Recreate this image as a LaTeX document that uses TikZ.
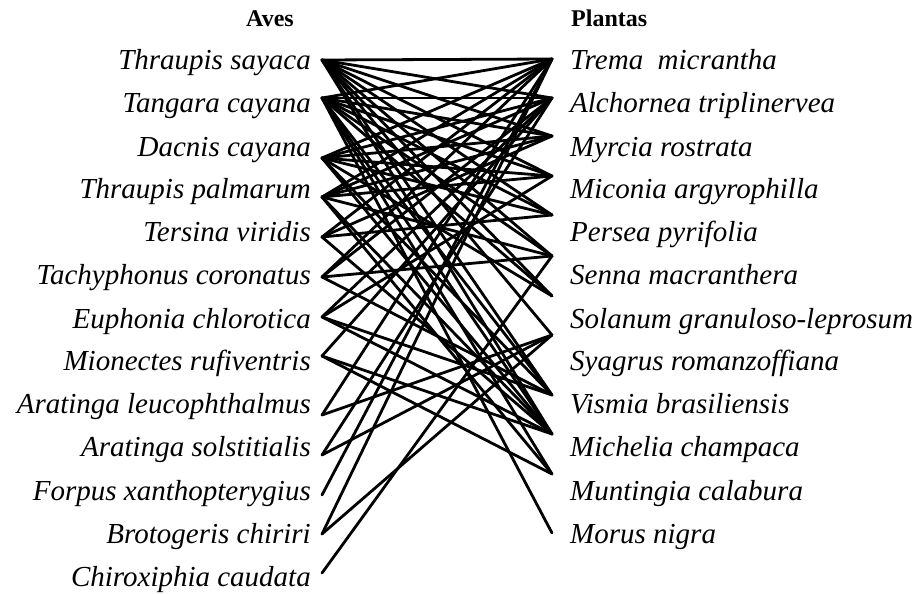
\documentclass[tikz,border=0pt]{standalone}
\usepackage{fontspec}
\setmainfont{Liberation Serif}
\begin{document}
\begin{tikzpicture}[x=1pt,y=-1pt,
  lbl/.style={font=\fontsize{29}{29}\selectfont\itshape, inner sep=0pt},
  hdr/.style={font=\fontsize{24}{24}\selectfont\bfseries, inner sep=0pt},
  link/.style={line width=2.8pt, line cap=round, line join=round}]
\useasboundingbox (0,0) rectangle (916,594);
% headers
\node[hdr, anchor=base] (aves) at (270,27) {Aves};
\node[hdr, anchor=base west] (plantas) at (571,27) {Plantas};
% bird labels
\foreach \i/\y/\t in {1/62/Thraupis sayaca, 2/104/Tangara cayana, 3/148/Dacnis cayana,
  4/190/Thraupis palmarum, 5/233/Tersina viridis, 6/276/Tachyphonus coronatus,
  7/320/Euphonia chlorotica, 8/362/Mionectes rufiventris, 9/405/Aratinga leucophthalmus,
  10/448/Aratinga solstitialis, 11/492/Forpus xanthopterygius, 12/535/Brotogeris chiriri,
  13/578/Chiroxiphia caudata}
  \node[lbl, anchor=base east] (b\i) at (311,\y+8) {\t};
% plant labels
\foreach \i/\y/\t in {1/62/Trema\ \ micrantha, 2/104/Alchornea triplinervea, 3/148/Myrcia rostrata,
  4/190/Miconia argyrophilla, 5/233/Persea pyrifolia, 6/276/Senna macranthera,
  7/320/Solanum granuloso-leprosum, 8/362/Syagrus romanzoffiana, 9/405/Vismia brasiliensis,
  10/448/Michelia champaca, 11/492/Muntingia calabura, 12/535/Morus nigra}
  \node[lbl, anchor=base west] (p\i) at (570,\y+8) {\t};
% endpoints
\foreach \i/\y in {1/60,2/98,3/158,4/197,5/237,6/277,7/317,8/356,9/415,10/455,11/495,12/534,13/573}
  \coordinate (L\i) at (322,\y);
\foreach \i/\y in {1/59,2/98,3/136,4/176,5/215,6/256,7/296,8/335,9/395,10/434,11/474,12/533}
  \coordinate (R\i) at (552,\y);
% links
\foreach \a/\bs in {1/{1,2,3,4,5,6,7,8,9,10},
  2/{1,2,3,4,5,6,7,9,10,11,12},
  3/{1,2,3,4,5,7,9,10},
  4/{1,2,3,4,6,10,11},
  5/{1,3,5,10},
  6/{1,2,6,9},
  7/{2,4,9,10},
  8/{2,10,11},
  9/{1,8},
  10/{2,8},
  11/{1},
  12/{1,8},
  13/{6}}
  \foreach \b in \bs
    \draw[link] (L\a) -- (R\b);
\end{tikzpicture}
\end{document}
